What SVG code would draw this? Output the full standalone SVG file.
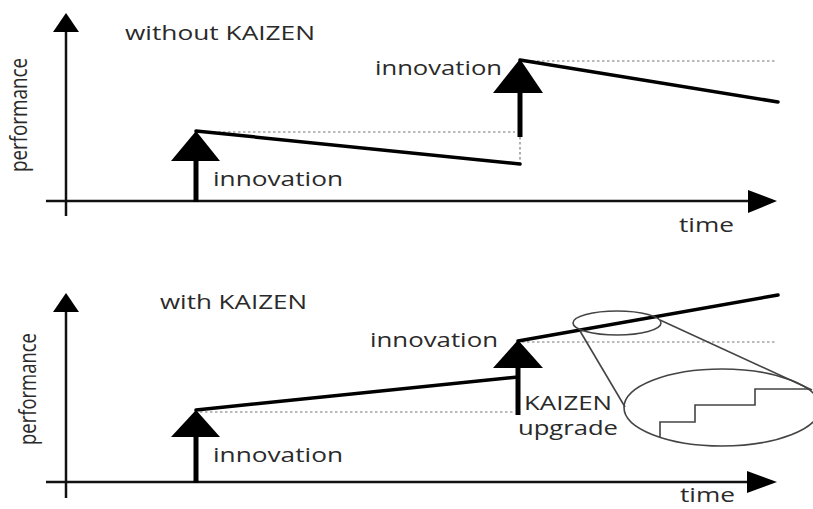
<svg xmlns="http://www.w3.org/2000/svg" width="813" height="509" viewBox="0 0 813 509">
<style>
.bg{fill:#fff}
.axis{stroke:#111;stroke-width:2.5;fill:none}
.head{fill:#000;stroke:none}
.shaft{stroke:#000;stroke-width:5;fill:none}
.bold{stroke:#000;stroke-width:3.5;fill:none;stroke-linecap:round;stroke-linejoin:round}
.dot{stroke:#777;stroke-width:1.2;stroke-dasharray:2.5 2.5;fill:none}
.thin{stroke:#444;stroke-width:1.6;fill:none}
.lbl{font-family:"Open Sans","Liberation Sans",sans-serif;font-size:20px;fill:#2a2a2a}
.vlbl{font-family:"Open Sans","Liberation Sans",sans-serif;font-size:24px;fill:#2a2a2a}
</style>
<rect class="bg" x="0" y="0" width="813" height="509"/>

<g id="top-axes">
  <line class="axis" x1="66" y1="216" x2="66" y2="30"/>
  <polygon class="head" points="66,13 53,32 79,32"/>
  <line class="axis" x1="46" y1="201" x2="750" y2="201"/>
  <polygon class="head" points="777,201 748,190 748,213"/>
  <text class="vlbl" transform="translate(27,115) rotate(-90)" text-anchor="middle" textLength="114" lengthAdjust="spacingAndGlyphs">performance</text>
  <text class="lbl" x="679" y="232" textLength="55" lengthAdjust="spacingAndGlyphs">time</text>
  <text class="lbl" x="125" y="40" textLength="190" lengthAdjust="spacingAndGlyphs">without KAIZEN</text>
</g>

<g id="top-connectors">
  <line class="dot" x1="198" y1="132" x2="515" y2="132"/>
  <line class="dot" x1="522" y1="61" x2="777" y2="61"/>
  <line class="dot" x1="520" y1="137" x2="520" y2="163"/>
  <polyline class="bold" points="196,131 520,164"/>
  <polyline class="bold" points="520,60 778,102"/>
</g>

<g id="top-innovation-1">
  <line class="shaft" x1="196" y1="202" x2="196" y2="158"/>
  <polygon class="head" points="196,131 171,161 220,161"/>
  <text class="lbl" x="213" y="186" textLength="130" lengthAdjust="spacingAndGlyphs">innovation</text>
</g>

<g id="top-innovation-2">
  <line class="shaft" x1="520" y1="137" x2="520" y2="90"/>
  <polygon class="head" points="520,59 493,93 543,93"/>
  <text class="lbl" x="375" y="75" textLength="127" lengthAdjust="spacingAndGlyphs">innovation</text>
</g>

<g id="bottom-axes">
  <line class="axis" x1="66" y1="498" x2="66" y2="310"/>
  <polygon class="head" points="66,293 53,312 79,312"/>
  <line class="axis" x1="46" y1="482" x2="750" y2="482"/>
  <polygon class="head" points="777,482 747,471 747,493"/>
  <text class="vlbl" transform="translate(36,389) rotate(-90)" text-anchor="middle" textLength="112" lengthAdjust="spacingAndGlyphs">performance</text>
  <text class="lbl" x="680" y="502" textLength="55" lengthAdjust="spacingAndGlyphs">time</text>
  <text class="lbl" x="160" y="309" textLength="147" lengthAdjust="spacingAndGlyphs">with KAIZEN</text>
</g>

<g id="bottom-connectors">
  <line class="dot" x1="200" y1="412" x2="515" y2="412"/>
  <line class="dot" x1="522" y1="342" x2="777" y2="342"/>
  <polyline class="bold" points="196,410 518,377"/>
  <polyline class="bold" points="518,341 778,295"/>
</g>

<g id="bottom-innovation-1">
  <line class="shaft" x1="196" y1="483" x2="196" y2="434"/>
  <polygon class="head" points="196,410 171,437 220,437"/>
  <text class="lbl" x="213" y="462" textLength="130" lengthAdjust="spacingAndGlyphs">innovation</text>
</g>

<g id="bottom-innovation-2">
  <line class="shaft" x1="518" y1="415" x2="518" y2="365"/>
  <polygon class="head" points="518,340 493,368 543,368"/>
  <text class="lbl" x="370" y="347" textLength="128" lengthAdjust="spacingAndGlyphs">innovation</text>
</g>

<g id="kaizen-upgrade">
  <text class="lbl" x="524" y="410" textLength="88" lengthAdjust="spacingAndGlyphs">KAIZEN</text>
  <text class="lbl" x="518" y="435" textLength="100" lengthAdjust="spacingAndGlyphs">upgrade</text>
</g>

<g id="magnifier">
  <ellipse class="thin" cx="617" cy="323" rx="44" ry="12"/>
  <line class="thin" x1="580" y1="331" x2="625" y2="407"/>
  <line class="thin" x1="660" y1="320" x2="812" y2="390"/>
  <ellipse class="thin" cx="722" cy="407.5" rx="98" ry="38.5"/>
  <polyline class="thin" points="660,437 660,422 695,422 695,405 755,405 755,389 808,389"/>
</g>
</svg>
